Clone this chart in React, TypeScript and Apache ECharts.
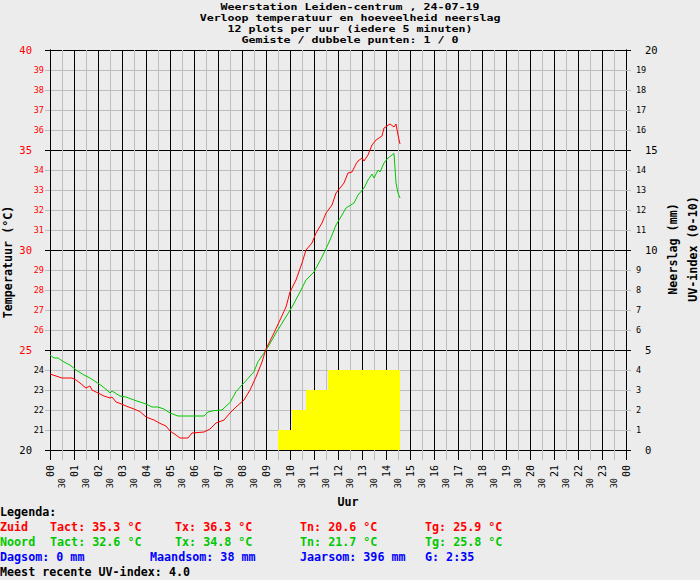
import React, { useEffect, useRef } from "react";
import * as echarts from "echarts";

const titleLines = [
  "Weerstation Leiden-centrum , 24-07-19",
  "Verloop temperatuur en hoeveelheid neerslag",
  "12 plots per uur (iedere 5 minuten)",
  "Gemiste / dubbele punten: 1 / 0",
];

const zuidTimes = [
  "00:00", "00:15", "00:30", "00:55", "01:05", "01:15", "01:30", "01:40", "01:45", "02:00",
  "02:15", "02:30", "02:35", "02:45", "02:55", "03:10", "03:30", "03:45", "04:00", "04:20",
  "04:35", "04:50", "05:00", "05:15", "05:25", "05:45", "05:55", "06:25", "06:40", "06:55",
  "07:15", "07:30", "07:45", "08:05", "08:20", "08:35", "08:50", "09:00", "09:20", "09:35",
  "09:50", "10:00", "10:15", "10:30", "10:40", "10:55", "11:05", "11:20", "11:30", "11:45",
  "11:55", "12:05", "12:15", "12:25", "12:35", "12:45", "12:50", "13:00", "13:05", "13:15",
  "13:25", "13:35", "13:50", "13:55", "14:10", "14:20", "14:25", "14:30", "14:35",
];
const zuidTemps = [
  23.8, 23.7, 23.6, 23.6, 23.5, 23.35, 23.1, 23.2, 23.0, 22.85,
  22.7, 22.6, 22.65, 22.4, 22.33, 22.2, 22.05, 21.92, 21.65, 21.5,
  21.33, 21.2, 20.95, 20.75, 20.6, 20.6, 20.85, 20.9, 21.05, 21.35,
  21.5, 21.85, 22.15, 22.5, 23.0, 23.65, 24.4, 25.05, 25.85, 26.5,
  27.15, 27.9, 28.5, 29.35, 30.0, 30.35, 30.85, 31.35, 31.85, 32.25,
  32.85, 33.1, 33.35, 33.85, 33.9, 34.3, 34.45, 34.6, 34.45, 34.75,
  35.25, 35.5, 35.7, 36.1, 36.3, 36.15, 36.3, 35.75, 35.3,
];

const noordTimes = [
  "00:00", "00:10", "00:20", "00:35", "00:50", "01:05", "01:25", "01:40", "01:55", "02:10",
  "02:25", "02:30", "02:35", "02:55", "03:10", "03:30", "03:45", "04:00", "04:15", "04:30",
  "04:45", "05:00", "05:20", "06:25", "06:35", "06:50", "07:10", "07:15", "07:30", "07:45",
  "08:00", "08:15", "08:30", "08:40", "08:55", "09:05", "09:25", "09:45", "10:05", "10:25",
  "10:40", "11:00", "11:20", "11:40", "11:55", "12:10", "12:20", "12:40", "12:50", "13:05",
  "13:15", "13:25", "13:30", "13:40", "13:45", "13:55", "14:05", "14:15", "14:20", "14:25",
  "14:30", "14:35",
];
const noordTemps = [
  24.75, 24.6, 24.6, 24.4, 24.25, 24.0, 23.75, 23.6, 23.4, 23.2,
  22.95, 22.85, 22.95, 22.7, 22.65, 22.5, 22.4, 22.3, 22.15, 22.15,
  22.05, 21.85, 21.7, 21.7, 21.9, 21.97, 22.0, 22.1, 22.37, 22.92,
  23.25, 23.58, 23.92, 24.42, 24.85, 25.15, 25.85, 26.5, 27.15, 27.9,
  28.5, 28.9, 29.65, 30.5, 31.25, 31.75, 32.1, 32.35, 32.75, 33.1,
  33.5, 33.8, 33.6, 34.0, 33.9, 34.35, 34.6, 34.75, 34.83, 33.35,
  32.85, 32.6,
];

const uvTimes = ["09:30", "10:05", "10:40", "11:35", "14:35"];
const uvValues = [1, 2, 3, 4, 4];

const legendRows = [
  { color: "#000000", items: [["Legenda:", 0]] },
  { color: "#ff0000", items: [["Zuid", 0], ["Tact: 35.3 °C", 50], ["Tx: 36.3 °C", 175], ["Tn: 20.6 °C", 300], ["Tg: 25.9 °C", 425]] },
  { color: "#00c800", items: [["Noord", 0], ["Tact: 32.6 °C", 50], ["Tx: 34.8 °C", 175], ["Tn: 21.7 °C", 300], ["Tg: 25.8 °C", 425]] },
  { color: "#0000ff", items: [["Dagsom: 0 mm", 0], ["Maandsom: 38 mm", 150], ["Jaarsom: 396 mm", 300], ["G: 2:35", 425]] },
  { color: "#000000", items: [["Meest recente UV-index: 4.0", 0]] },
];

const toHours = (t: string) => {
  const [h, m] = t.split(":").map(Number);
  return h + m / 60;
};

const MONO = '"DejaVu Sans Mono", "Liberation Mono", monospace';
const BOLD = `bold 11.7px ${MONO}`;
const TITLE_SIZE = 9.4;
const TITLE_FONT = `bold ${TITLE_SIZE}px ${MONO}`;
const RED = "#ff0000";
const GRAY = "#bdbdbd";

export default function App() {
  const ref = useRef<HTMLDivElement>(null);
  useEffect(() => {
    if (!ref.current) return;
    const chart = echarts.init(ref.current, null, { renderer: "svg" });

    const txt = (
      text: string,
      x: number,
      y: number,
      extra: any = {},
      color = "#000",
      align = "left",
      font = BOLD
    ) => ({
      type: "text",
      x,
      y,
      silent: true,
      ...extra,
      style: {
        text,
        font,
        fill: color,
        textAlign: align,
        align,
        textVerticalAlign: "middle",
        verticalAlign: "middle",
      },
    });

    const graphics: any[] = [];
    const titleScale = 7 / (0.602 * TITLE_SIZE);
    titleLines.forEach((t, i) =>
      graphics.push(txt(t, 350, 6 + i * 11, { scaleX: titleScale }, "#000", "center", TITLE_FONT))
    );
    graphics.push(txt("Temperatuur (°C)", 8, 262, { rotation: Math.PI / 2 }, "#000", "center"));
    graphics.push(txt("Neerslag (mm)", 673, 249, { rotation: Math.PI / 2 }, "#000", "center"));
    graphics.push(txt("UV-index (0-10)", 693, 249, { rotation: Math.PI / 2 }, "#000", "center"));
    graphics.push(txt("Uur", 348, 502, {}, "#000", "center"));
    legendRows.forEach((row, i) => {
      row.items.forEach(([t, x]) => graphics.push(txt(t as string, x as number, 512 + i * 15, {}, row.color)));
    });

    const tempColor = (v: any) => (Number(v) >= 25 ? RED : "#000");

    chart.setOption({
      animation: false,
      backgroundColor: "#ececec",
      grid: { left: 50, right: 74, top: 50, bottom: 130, containLabel: false },
      xAxis: [
        {
          type: "value",
          min: 0,
          max: 24,
          interval: 0.5,
          position: "bottom",
          axisLine: { show: true, lineStyle: { color: "#000", width: 1 } },
          axisTick: { show: true, length: 10, lineStyle: { color: GRAY } },
          axisLabel: {
            rotate: 90,
            margin: 28,
            fontFamily: MONO,
            fontSize: 8.5,
            color: "#000",
            formatter: (v: number) => (Math.abs((v % 1) - 0.5) < 1e-6 ? "30" : ""),
          },
          splitLine: { show: true, lineStyle: { color: ["#000", GRAY], width: 1 } },
        },
        {
          type: "value",
          min: 0,
          max: 24,
          interval: 1,
          position: "bottom",
          axisLine: { show: true, lineStyle: { color: "#000", width: 1 } },
          axisTick: { show: true, length: 10, lineStyle: { color: "#000" } },
          axisLabel: {
            rotate: 90,
            margin: 15,
            fontFamily: MONO,
            fontSize: 10,
            color: "#000",
            formatter: (v: number) => String(Math.round(v) % 24).padStart(2, "0"),
          },
          splitLine: { show: false },
        },
      ],
      yAxis: [
        {
          type: "value",
          min: 20,
          max: 40,
          interval: 1,
          position: "left",
          axisLine: { show: true, lineStyle: { color: "#000" } },
          axisTick: { show: true, length: 5, lineStyle: { color: GRAY } },
          axisLabel: {
            margin: 6,
            fontFamily: MONO,
            fontSize: 8.5,
            color: tempColor,
            formatter: (v: number) => (v % 5 === 0 ? "" : String(v)),
          },
          splitLine: { show: true, lineStyle: { color: ["#000", GRAY, GRAY, GRAY, GRAY], width: 1 } },
        },
        {
          type: "value",
          min: 20,
          max: 40,
          interval: 5,
          position: "left",
          axisLine: { show: true, lineStyle: { color: "#000" } },
          axisTick: { show: true, length: 5, lineStyle: { color: "#000" } },
          axisLabel: { margin: 18, fontFamily: MONO, fontSize: 10.5, color: tempColor },
          splitLine: { show: false },
        },
        {
          type: "value",
          min: 0,
          max: 20,
          interval: 1,
          position: "right",
          axisLine: { show: true, lineStyle: { color: "#000" } },
          axisTick: { show: true, length: 5, lineStyle: { color: GRAY } },
          axisLabel: {
            margin: 10,
            fontFamily: MONO,
            fontSize: 8.5,
            color: "#000",
            formatter: (v: number) => (v % 5 === 0 ? "" : String(v)),
          },
          splitLine: { show: false },
        },
        {
          type: "value",
          min: 0,
          max: 20,
          interval: 5,
          position: "right",
          axisLine: { show: true, lineStyle: { color: "#000" } },
          axisTick: { show: true, length: 5, lineStyle: { color: "#000" } },
          axisLabel: { margin: 19, fontFamily: MONO, fontSize: 10.5, color: "#000" },
          splitLine: { show: false },
        },
      ],
      series: [
        {
          name: "UV-index",
          type: "line",
          xAxisIndex: 1,
          yAxisIndex: 2,
          step: "end",
          symbol: "none",
          lineStyle: { width: 0 },
          areaStyle: { color: "#ffff00", opacity: 1 },
          data: uvTimes.map((t, i) => [toHours(t), uvValues[i]]),
          z: 3,
        },
        {
          name: "Zuid",
          type: "line",
          xAxisIndex: 1,
          yAxisIndex: 0,
          symbol: "none",
          lineStyle: { width: 1, color: "#ff0000" },
          data: zuidTimes.map((t, i) => [toHours(t), zuidTemps[i]]),
          z: 5,
        },
        {
          name: "Noord",
          type: "line",
          xAxisIndex: 1,
          yAxisIndex: 0,
          symbol: "none",
          lineStyle: { width: 1, color: "#00c800" },
          data: noordTimes.map((t, i) => [toHours(t), noordTemps[i]]),
          z: 4,
        },
      ],
      graphic: graphics,
    });
    return () => chart.dispose();
  }, []);

  return (
    <div
      ref={ref}
      style={{ position: "fixed", left: 0, top: 0, width: 700, height: 580, background: "#ececec" }}
    />
  );
}
